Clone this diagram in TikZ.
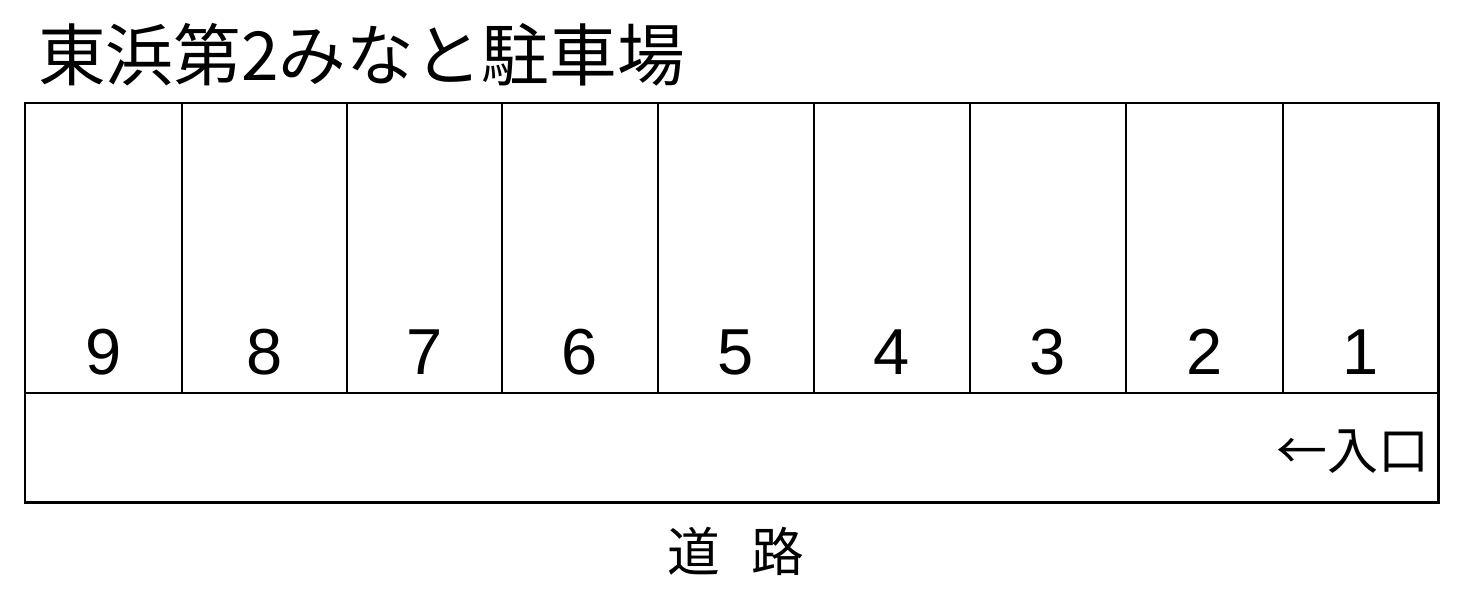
\documentclass[tikz,border=0pt]{standalone}
\usepackage{fontspec}
\setmainfont{Liberation Sans}
\newfontfamily\jpfont{Noto Sans CJK JP}
\usepackage{tikz}

\begin{document}
\begin{tikzpicture}[x=0.02cm,y=-0.02cm,
  lot line/.style={draw,line width=1.7pt},
  stall line/.style={draw,line width=1.4pt},
  num node/.style={font=\fontsize{37}{37}\selectfont},
  jp node/.style={font=\jpfont\fontsize{#1}{#1}\selectfont,inner sep=0pt}]

 \useasboundingbox (0,0) rectangle (1459,592);

 % the lot and the row of stalls
 \draw[lot line] (25,103) rectangle (1438,502);
 \draw[stall line] (25,393) -- (1438,393);
 \foreach \x in {182,347,502,658,814,970,1126,1283}
   \draw[stall line] (\x,103) -- (\x,393);

 \node[jp node=38.5pt,anchor=west] (title) at (38,55) {東浜第2みなと駐車場};

 \foreach \l/\r/\n in {25/182/9,182/347/8,347/502/7,502/658/6,658/814/5,
                       814/970/4,970/1126/3,1126/1283/2,1283/1438/1}
   \node[num node] (n\n) at ({(\l+\r)/2},352) {\n};

 \node[jp node=29pt,anchor=east] (entry) at (1430,452) {←入口};
 \node[jp node=30pt] (road) at (736,551) {道\hspace{0.6em}路};

\end{tikzpicture}
\end{document}
